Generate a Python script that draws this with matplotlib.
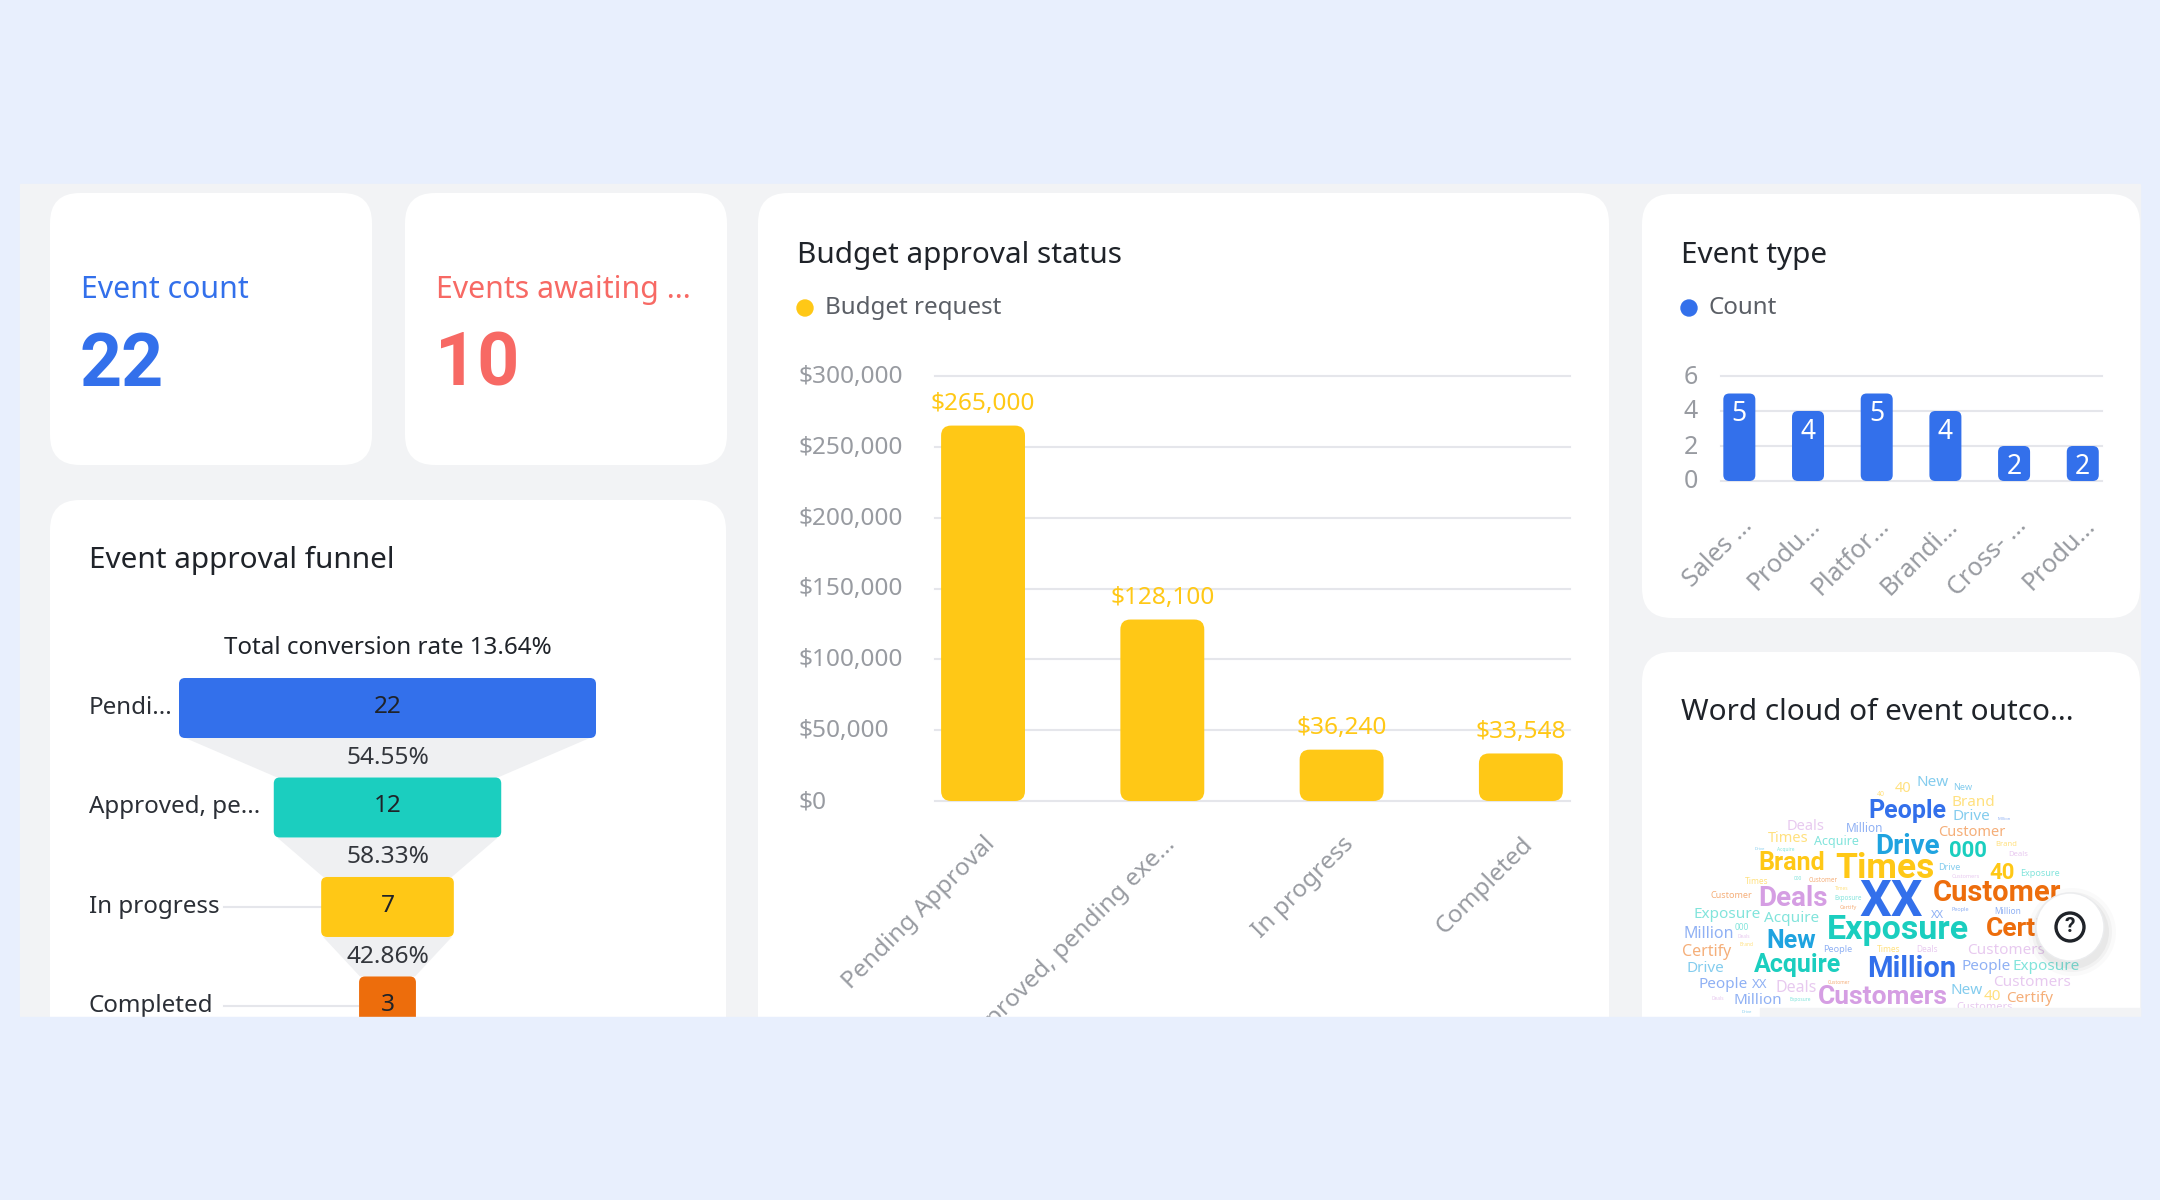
import matplotlib

matplotlib.use("Agg")
import matplotlib.pyplot as plt
import matplotlib.transforms as mtransforms
from matplotlib.patches import Circle, FancyBboxPatch, Rectangle
from matplotlib.ticker import StrMethodFormatter

plt.rcParams["font.family"] = ["Noto Sans", "DejaVu Sans"]

WIDTH, HEIGHT = 2160, 1200

BLUE = "#3370eb"
TEAL = "#1bcebf"
YELLOW = "#ffc816"
ORANGE = "#ed6d0c"
RED = "#f76964"
PURPLE = "#d59ee3"
SKY = "#1fa3e0"
INK = "#1f2329"
MUTED = "#5b5f66"
AXIS_GREY = "#989ba1"
GRID = "#e5e6eb"
PAGE_BG = "#e8effd"
PANEL_BG = "#f2f3f5"

TITLE_SIZE = 21.4
BODY_SIZE = 17.4

# KPI cards
kpi_labels = ["Event count", "Events awaiting ..."]
kpi_values = [22, 10]

# funnel
funnel_stages = ["Pendi...", "Approved, pe...", "In progress", "Completed"]
funnel_counts = [22, 12, 7, 3]
funnel_rates = ["54.55%", "58.33%", "42.86%"]
funnel_total = "Total conversion rate 13.64%"

# budget bars
budget_categories = ["Pending Approval", "Approved, pending exe...", "In progress", "Completed"]
budget_values = [265000, 128100, 36240, 33548]
budget_ticks = [0, 50000, 100000, 150000, 200000, 250000, 300000]

# event type bars
event_categories = ["Sales ...", "Produ...", "Platfor...", "Brandi...", "Cross- ...", "Produ..."]
event_counts = [5, 4, 5, 4, 2, 2]
event_ticks = [0, 2, 4, 6]

# word cloud, one word per entry in reading order of the picture
cloud_words = [
    "XX", "Exposure", "Times", "Customer", "Certify", "Million", "Customers",
    "Drive", "Deals", "Brand", "People", "Acquire", "New", "000", "40",
    "40", "New", "New", "Brand", "Drive", "Million", "Deals", "Customer",
    "Times", "Acquire", "Brand", "Deals", "Exposure", "Customer", "Times",
    "Exposure", "Acquire", "Million", "Certify", "Drive", "People", "XX",
    "Deals", "Million", "People", "Exposure", "Customers", "Customers", "New",
    "40", "Certify", "XX", "Million", "People", "Times", "Deals", "Drive",
    "Customer", "000", "40", "Customers", "Exposure", "Certify", "Customer",
    "Exposure", "Deals", "People", "Acquire", "000", "Million", "Drive",
    "Deals", "Brand", "Times", "Customers", "Drive",
]
cloud_weights = [
    36, 24.5, 25.5, 21, 19, 21, 19,
    20, 20, 18, 18, 18, 18, 16, 16,
    10.5, 11, 6.5, 11, 11, 8.5, 10.5, 10.5,
    10.5, 9, 5.5, 5.5, 6.5, 6.5, 6,
    11, 11, 11.5, 11.5, 11, 11, 9.5,
    11.5, 11, 11, 11, 11, 11, 11,
    11, 11, 8, 6, 6.5, 6, 6, 6.5,
    4.5, 6, 5, 4, 4.5, 4, 3.5,
    3.5, 3.5, 4, 3.5, 3.5, 3, 3,
    3.5, 3.5, 3.5, 8, 3,
]
# centre of each word in the cloud, in pixels of the page
cloud_layout = [
    (1891, 902), (1898, 930), (1885, 868), (1997, 893), (2026, 929), (1912, 969), (1883, 997),
    (1908, 847), (1793, 898), (1792, 863), (1907, 811), (1798, 965), (1791, 941), (1968, 851), (2002, 873),
    (1903, 788), (1933, 782), (1963, 788), (1973, 802), (1971, 817), (1865, 828), (1806, 827), (1972, 833),
    (1788, 839), (1836, 842), (2006, 845), (2018, 855), (2040, 873), (1731, 895), (1757, 881),
    (1727, 915), (1792, 918), (1709, 934), (1707, 952), (1705, 968), (1723, 984), (1760, 984),
    (1796, 988), (1758, 1000), (1986, 966), (2046, 966), (2006, 950), (2032, 982), (1967, 990),
    (1992, 997), (2030, 998), (1937, 916), (2008, 911), (1838, 950), (1889, 950), (1927, 950), (1949, 867),
    (1823, 880), (1742, 927), (1881, 794), (1966, 876), (1848, 898), (1848, 908), (1839, 982),
    (1800, 999), (1718, 999), (1960, 910), (1786, 850), (1798, 878), (2004, 819), (1760, 849),
    (1744, 937), (1747, 945), (1842, 888), (1985, 1007), (1747, 1012),
]
cloud_colors = {
    "XX": BLUE, "People": BLUE, "Million": BLUE,
    "Drive": SKY, "New": SKY,
    "Exposure": TEAL, "Acquire": TEAL, "000": TEAL,
    "Times": YELLOW, "Brand": YELLOW, "40": YELLOW,
    "Customer": ORANGE, "Certify": ORANGE,
    "Deals": PURPLE, "Customers": PURPLE,
}


def axes_px(fig, x0, y0, x1, y1, **kwargs):
    """Add an axes from a rectangle given in page pixels, y measured from the top"""
    return fig.add_axes(
        [x0 / WIDTH, 1 - y1 / HEIGHT, (x1 - x0) / WIDTH, (y1 - y0) / HEIGHT], **kwargs
    )


def add_card(page, x0, y0, x1, y1):
    page.add_patch(
        FancyBboxPatch(
            (x0, y0), x1 - x0, y1 - y0,
            boxstyle="round,pad=0,rounding_size=30",
            facecolor="white", edgecolor="none",
        )
    )


def round_bars(ax, bars, radius):
    """Swap the square bars for rounded ones of the same size, radius in pixels"""
    p0, p1 = ax.transData.transform([(0, 0), (1, 1)])
    x_per_px = 1 / abs(p1[0] - p0[0])
    y_per_px = 1 / abs(p1[1] - p0[1])
    for bar in bars:
        ax.add_patch(
            FancyBboxPatch(
                (bar.get_x(), bar.get_y()), bar.get_width(), bar.get_height(),
                boxstyle=f"round,pad=0,rounding_size={radius * x_per_px}",
                mutation_aspect=y_per_px / x_per_px,
                facecolor=bar.get_facecolor(), edgecolor="none", zorder=3,
            )
        )
        bar.set_visible(False)


def style_column_axes(ax, fig, left_pad, label_size):
    ax.patch.set_alpha(0)
    for spine in ax.spines.values():
        spine.set_visible(False)
    ax.set_axisbelow(True)
    ax.grid(axis="y", color=GRID, linewidth=1.5, clip_on=False)
    ax.grid(axis="x", visible=False)
    ax.tick_params(length=0, labelsize=label_size, labelcolor=AXIS_GREY)
    ax.tick_params(axis="y", pad=left_pad)
    offset = mtransforms.ScaledTranslation(0, 2 / fig.dpi, fig.dpi_scale_trans)
    for label in ax.get_yticklabels():
        label.set_ha("left")
        label.set_transform(label.get_transform() + offset)


def shift_xlabels(ax, fig, dx_px, dy_px):
    offset = mtransforms.ScaledTranslation(dx_px / fig.dpi, dy_px / fig.dpi, fig.dpi_scale_trans)
    for label in ax.get_xticklabels():
        label.set_rotation(45)
        label.set_rotation_mode("anchor")
        label.set_ha("right")
        label.set_va("center")
        label.set_transform(label.get_transform() + offset)


def draw_kpis(page):
    xs = [81, 436]
    colors = [BLUE, RED]
    for x, label, value, color in zip(xs, kpi_labels, kpi_values, colors):
        page.text(x, 290, label, color=color, fontsize=21.8, va="center")
        page.text(x - 1, 366, str(value), color=color, fontsize=53, va="center",
                  family="Roboto", fontweight="bold")


def draw_funnel(fig, page):
    page.text(89, 560, "Event approval funnel", color=INK, fontsize=TITLE_SIZE, va="center")
    ax = axes_px(fig, 179, 670, 596, 1017)
    ax.patch.set_alpha(0)
    ax.axis("off")
    half = max(funnel_counts) / 2
    ax.set_xlim(-half, half)
    ax.set_ylim(3.106, -0.382)

    colors = [BLUE, TEAL, YELLOW, ORANGE]
    positions = list(range(len(funnel_counts)))
    lefts = [-c / 2 for c in funnel_counts]
    bars = ax.barh(positions, funnel_counts, left=lefts, height=0.603, color=colors)
    round_bars(ax, bars, 6)

    # grey trapezoids between the stages
    for i, rate in enumerate(funnel_rates):
        top = i + 0.3015
        bottom = i + 1 - 0.3015
        upper = funnel_counts[i] / 2 * 0.97
        lower = funnel_counts[i + 1] / 2 * 0.97
        ax.fill([-upper, upper, lower, -lower], [top, top, bottom, bottom],
                color="#eff0f2", zorder=1, linewidth=0)
        ax.text(0, i + 0.5, rate, ha="center", va="center", color="#33363c", fontsize=17.6, zorder=4)

    for i, count in enumerate(funnel_counts):
        ax.text(0, i - 0.01, str(count), ha="center", va="center", color=INK, fontsize=17.6, zorder=4)

    # stage names sit in the page's left margin, on the stage's y
    blend = mtransforms.blended_transform_factory(page.transData, ax.transData)
    for i, stage in enumerate(funnel_stages):
        fig.text(89, i, stage, transform=blend, va="center", color="#2b2f36", fontsize=BODY_SIZE)
    ax.plot([-half + 2.35, -half + 7.5], [2, 2], color=GRID, lw=1.5, zorder=0)
    ax.plot([-half + 2.35, -half + 9.45], [3, 3], color=GRID, lw=1.5, zorder=0)

    page.text(387.5, 648, funnel_total, ha="center", va="center", color=INK, fontsize=BODY_SIZE)


def draw_budget(fig, page):
    page.text(797, 256, "Budget approval status", color=INK, fontsize=TITLE_SIZE, va="center")
    page.add_patch(Circle((805, 308), 8, color=YELLOW))
    page.text(825, 308, "Budget request", color=MUTED, fontsize=BODY_SIZE, va="center")

    ax = axes_px(fig, 935, 376, 1570, 801)
    ax.set_xlim(-0.268, 3.274)
    ax.set_ylim(0, max(budget_ticks))
    ax.set_yticks(budget_ticks)
    ax.yaxis.set_major_formatter(StrMethodFormatter("${x:,.0f}"))
    positions = list(range(len(budget_values)))
    ax.set_xticks(positions, budget_categories)
    style_column_axes(ax, fig, 98.5, 17.6)
    shift_xlabels(ax, fig, 9, -35)

    bars = ax.bar(positions, budget_values, width=0.468, color=YELLOW)
    round_bars(ax, bars, 10)
    for x, value in zip(positions, budget_values):
        ax.annotate(f"${value:,}", (x, value), xytext=(0, 15.5), textcoords="offset points",
                    ha="center", va="center", color=YELLOW, fontsize=17.6, zorder=4)


def draw_event_type(fig, page):
    page.text(1681, 256, "Event type", color=INK, fontsize=TITLE_SIZE, va="center")
    page.add_patch(Circle((1689, 308), 8, color=BLUE))
    page.text(1709, 308, "Count", color=MUTED, fontsize=BODY_SIZE, va="center")

    ax = axes_px(fig, 1721, 376, 2102, 481)
    ax.set_xlim(-0.267, 5.28)
    ax.set_ylim(0, max(event_ticks))
    ax.set_yticks(event_ticks)
    positions = list(range(len(event_counts)))
    ax.set_xticks(positions, event_categories)
    style_column_axes(ax, fig, 27, 18)
    shift_xlabels(ax, fig, 9, -36)

    bars = ax.bar(positions, event_counts, width=0.466, color=BLUE)
    round_bars(ax, bars, 6)
    for x, value in zip(positions, event_counts):
        ax.annotate(str(value), (x, value), xytext=(0, -15), textcoords="offset points",
                    ha="center", va="center", color="white", fontsize=19, zorder=4)


def draw_word_cloud(page):
    page.text(1681, 713, "Word cloud of event outco...", color=INK, fontsize=TITLE_SIZE, va="center")
    for word, weight, (x, y) in zip(cloud_words, cloud_weights, cloud_layout):
        strong = weight >= 14
        page.text(
            x, y, word, ha="center", va="center", fontsize=weight,
            color=cloud_colors[word], alpha=1 if strong else 0.55,
            family="Roboto" if strong else "Noto Sans",
            fontweight="bold" if strong else "normal",
        )


def draw_overlay(fig):
    """Everything that sits on top of the charts: the cut-off at the bottom, the help button"""
    top = axes_px(fig, 0, 0, WIDTH, HEIGHT, zorder=10)
    top.set_xlim(0, WIDTH)
    top.set_ylim(HEIGHT, 0)
    top.axis("off")
    top.patch.set_alpha(0)
    top.add_patch(Rectangle((1760, 1008), 380, 9, color=PANEL_BG))
    top.add_patch(Rectangle((0, 1017), WIDTH, HEIGHT - 1017, color=PAGE_BG))
    for radius, alpha in [(44, 0.02), (40, 0.03), (37, 0.04)]:
        top.add_patch(Circle((2072, 932), radius, color="#000000", alpha=alpha, linewidth=0))
    top.add_patch(Circle((2070, 927), 34, facecolor="white", edgecolor="#ebecee", linewidth=1))
    top.add_patch(Circle((2070, 927), 14, facecolor="none", edgecolor="#1f2329", linewidth=2.4))
    top.text(2070, 926, "?", ha="center", va="center", color="#1f2329", fontsize=15, fontweight="bold",
             family="Roboto")


def main():
    fig = plt.figure(figsize=(WIDTH / 100, HEIGHT / 100), dpi=100, facecolor=PAGE_BG)
    page = axes_px(fig, 0, 0, WIDTH, HEIGHT)
    page.set_xlim(0, WIDTH)
    page.set_ylim(HEIGHT, 0)
    page.axis("off")

    page.add_patch(Rectangle((20, 184), 2120, 833, color=PANEL_BG))
    add_card(page, 50, 193, 372, 465)
    add_card(page, 405, 193, 727, 465)
    add_card(page, 50, 500, 726, 1080)
    add_card(page, 758, 193, 1609, 1080)
    add_card(page, 1642, 194, 2140, 618)
    add_card(page, 1642, 652, 2140, 1080)

    draw_kpis(page)
    draw_funnel(fig, page)
    draw_budget(fig, page)
    draw_event_type(fig, page)
    draw_word_cloud(page)
    draw_overlay(fig)

    fig.savefig("out.png", dpi=100, facecolor=PAGE_BG)
    plt.close(fig)


if __name__ == "__main__":
    main()
